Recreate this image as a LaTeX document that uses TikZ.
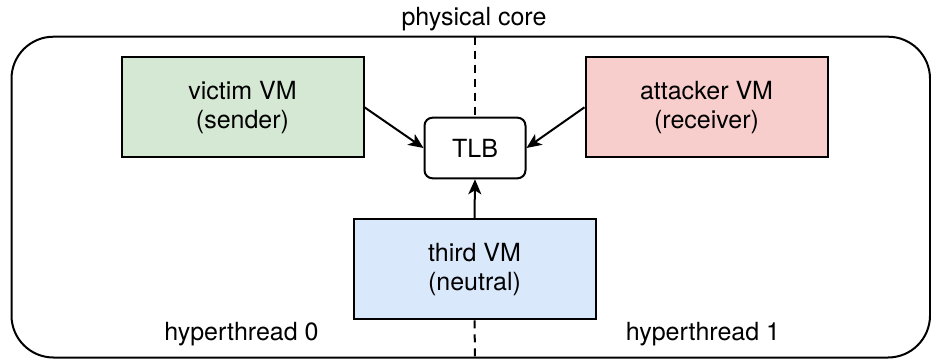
\documentclass[tikz,border=0pt]{standalone}
\usepackage{fontspec}
\setmainfont{TeX Gyre Heros}
\usetikzlibrary{arrows.meta}
\definecolor{vmgreen}{HTML}{D5E8D4}
\definecolor{vmred}{HTML}{F8CECC}
\definecolor{vmblue}{HTML}{DAE8FC}
\begin{document}
\begin{tikzpicture}[x=0.5pt,y=-0.5pt,
  every node/.style={font=\fontsize{12.5}{14.5}\selectfont, inner sep=0pt},
  vmbox/.style={draw=black, line width=1pt, minimum width=121pt, minimum height=50pt, align=center},
  tlbbox/.style={draw=black, fill=white, line width=1pt, rounded corners=4pt, minimum width=50.5pt, minimum height=30.3pt, align=center},
  core/.style={draw=black, line width=1pt, rounded corners=21pt},
  divider/.style={line width=1pt, dash pattern=on 4pt off 3pt},
  link/.style={line width=1pt, -{Stealth[length=7.5pt,width=6.5pt,inset=2pt]}},
  caption/.style={align=center}]
  \useasboundingbox (0,0) rectangle (931,359);

  % enclosing physical core
  \draw[core] (11.5,36.7) rectangle (930,357.5);
  \coordinate (coretop) at (475,36.7);
  \coordinate (corebot) at (475,357.5);

  % components
  \node[vmbox, fill=vmgreen] (victim) at (242.5,107.3) {victim VM\\(sender)};
  \node[vmbox, fill=vmred] (attacker) at (706.5,107.3) {attacker VM\\(receiver)};
  \node[tlbbox] (tlb) at (475,148) {TLB};
  \node[vmbox, fill=vmblue] (third) at (474.5,269.3) {third VM\\(neutral)};

  % hyperthread divider
  \draw[divider] (coretop) -- (tlb.north);
  \draw[divider] (third.south) -- (corebot);

  % accesses to the shared TLB
  \draw[link] (victim.east) -- (tlb.west);
  \draw[link] (attacker.west) -- (tlb.east);
  \draw[link] (third.north) -- (tlb.south);

  % labels
  \node[caption] (corelabel) at (474,19) {physical core};
  \node[caption] (ht0) at (241.5,334) {hyperthread 0};
  \node[caption] (ht1) at (703,334) {hyperthread 1};
\end{tikzpicture}
\end{document}
